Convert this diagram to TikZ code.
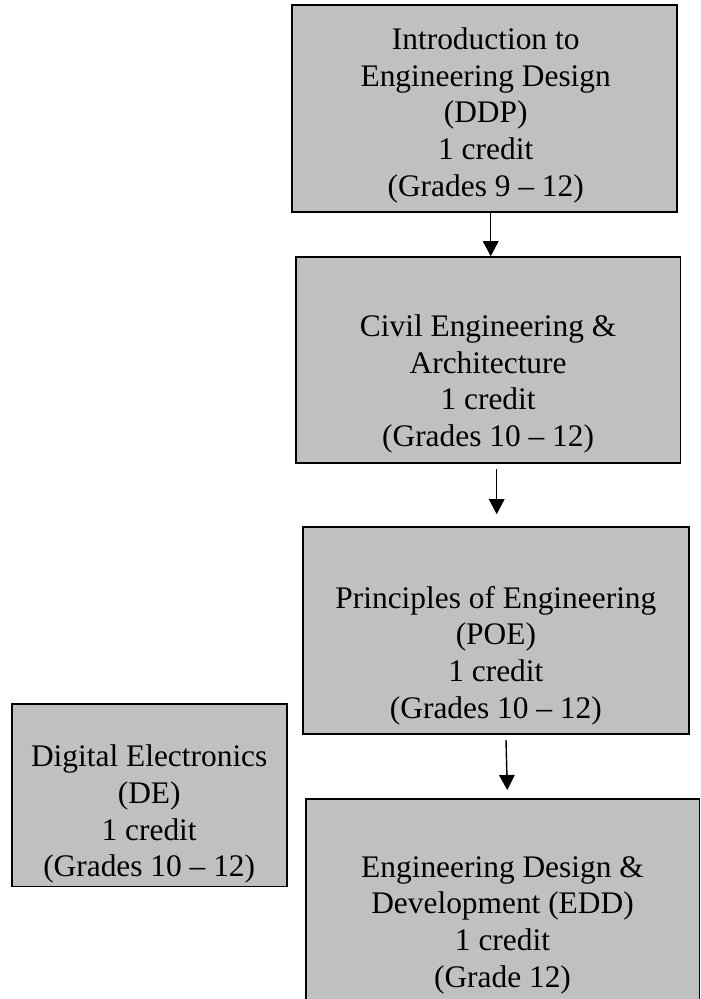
\documentclass[tikz,border=0pt]{standalone}
\usepackage{fontspec}
\setmainfont{Liberation Serif}
\usetikzlibrary{arrows.meta,calc}
\definecolor{boxgray}{RGB}{192,192,192}
\tikzset{
  box/.style={draw=black, fill=boxgray, line width=1.6pt, rectangle, inner sep=0pt},
  txt/.style={align=center, inner sep=0pt, font=\fontsize{31.4}{36.7}\selectfont},
  arr/.style={-{Triangle[length=15pt,width=15.5pt]}, line width=1.4pt}
}
\begin{document}
\begin{tikzpicture}[x=1pt,y=-1pt]
\useasboundingbox (0,0) rectangle (701,999);
\clip (0,0) rectangle (701,999);
\node[box, minimum width=385pt, minimum height=206.7pt] (b1) at (484.2,108.4) {};
\node[box, minimum width=384.8pt, minimum height=206pt] (b2) at (488.1,360) {};
\node[box, minimum width=385.7pt, minimum height=207pt] (b3) at (495.9,630.5) {};
\node[box, minimum width=275pt, minimum height=182.7pt] (de) at (149.2,795.3) {};
\node[box, minimum width=393.6pt, minimum height=242pt] (edd) at (502.5,920) {};
\node[txt] (t1) at ($(b1.center)+(1.5,7)$)
  {Introduction to\\Engineering Design\\(DDP)\\1 credit\\(Grades 9 -- 12)};
\node[txt] (t2) at ($(b2.center)+(0,24)$)
  {Civil Engineering \&\\Architecture\\1 credit\\(Grades 10 -- 12)};
\node[txt] (t3) at ($(b3.center)+(0,25)$)
  {Principles of Engineering\\(POE)\\1 credit\\(Grades 10 -- 12)};
\node[txt] (t4) at ($(de.center)+(0,19)$)
  {Digital Electronics\\(DE)\\1 credit\\(Grades 10 -- 12)};
\node[txt] (t5) at ($(edd.center)+(0,5)$)
  {Engineering Design \&\\Development (EDD)\\1 credit\\(Grade 12)};
\coordinate (a1) at (490.7,0);
\coordinate (a2) at (496.7,0);
\coordinate (a3s) at (506,740);
\coordinate (a3e) at (507.3,790);
\draw[arr] (a1 |- b1.south) -- (a1 |- b2.north);
\draw[arr] ($(a2 |- b2.south)+(0,5)$) -- ($(a2 |- b3.north)+(0,-12)$);
\draw[arr] (a3s) -- (a3e);
\end{tikzpicture}
\end{document}
